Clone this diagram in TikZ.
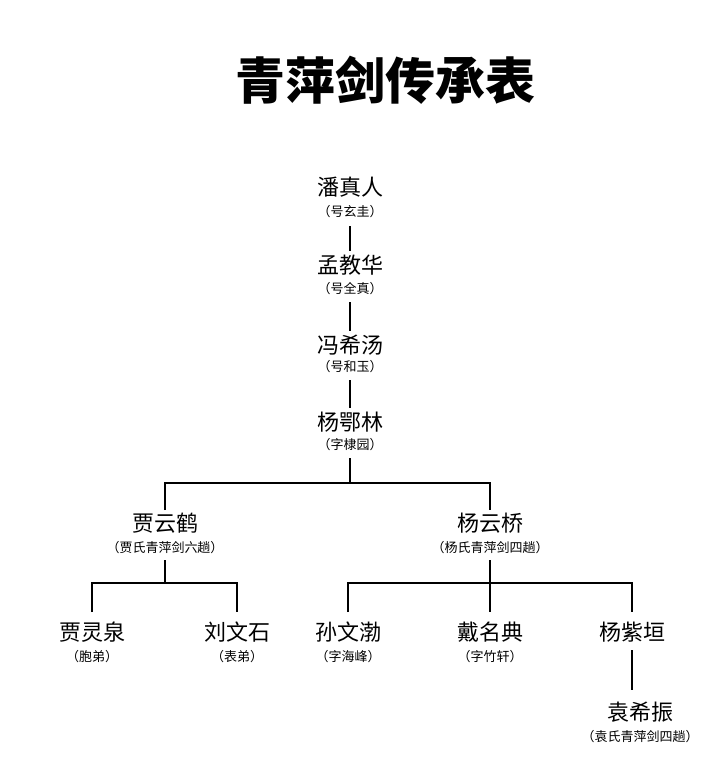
\documentclass[tikz,border=0pt]{standalone}
\usepackage{fontspec}
\newfontfamily\cjk{Noto Sans CJK SC}
\begin{document}
\begin{tikzpicture}[x=1pt,y=-1pt,
  nm/.style={font=\cjk\fontsize{22}{22}\selectfont,inner sep=0pt},
  sb/.style={font=\cjk\fontsize{13}{13}\selectfont,inner sep=0pt},
  ln/.style={line width=1.8pt,black}]
\useasboundingbox (0,0) rectangle (720,777);
\fill[white] (0,0) rectangle (720,777);
\node[font=\cjk\bfseries\fontsize{50}{50}\selectfont,inner sep=0pt] (title) at (385,80) {青萍剑传承表};
\node[nm] (a) at (350,187) {潘真人}; \node[sb] (as) at (350,212) {（号玄圭）};
\node[nm] (b) at (350,265) {孟教华}; \node[sb] (bs) at (350,289) {（号全真）};
\node[nm] (c) at (350,345) {冯希汤}; \node[sb] (cs) at (350,367) {（号和玉）};
\node[nm] (d) at (350,422) {杨鄂林}; \node[sb] (ds) at (350,445) {（字棣园）};
\node[nm] (e) at (165,523) {贾云鹤}; \node[sb] (es) at (165,548) {（贾氏青萍剑六趟）};
\node[nm] (f) at (490,523) {杨云桥}; \node[sb] (fs) at (490,548) {（杨氏青萍剑四趟）};
\node[nm] (g) at (92,632) {贾灵泉}; \node[sb] (gs) at (92,657) {（胞弟）};
\node[nm] (h) at (237,632) {刘文石}; \node[sb] (hs) at (237,657) {（表弟）};
\node[nm] (i) at (348,632) {孙文渤}; \node[sb] (is) at (348,657) {（字海峰）};
\node[nm] (j) at (490,632) {戴名典}; \node[sb] (js) at (490,657) {（字竹轩）};
\node[nm] (k) at (632,632) {杨紫垣};
\node[nm] (l) at (640,712) {袁希振}; \node[sb] (ls) at (640,737) {（袁氏青萍剑四趟）};
\coordinate (a1) at (350,226); \coordinate (b0) at (350,251);
\coordinate (b1) at (350,302); \coordinate (c0) at (350,331);
\coordinate (c1) at (350,380); \coordinate (d0) at (350,408);
\coordinate (d1) at (350,458); \coordinate (j1) at (350,483);
\coordinate (e0) at (165,510); \coordinate (f0) at (490,510);
\coordinate (e1) at (165,560); \coordinate (j2) at (165,583);
\coordinate (g0) at (92,612); \coordinate (h0) at (237,612);
\coordinate (f1) at (490,560); \coordinate (j3) at (490,583);
\coordinate (i0) at (348,612); \coordinate (j0) at (490,612); \coordinate (k0) at (632,612);
\coordinate (k1) at (632,650); \coordinate (l0) at (632,690);
\draw[ln] (a1) -- (b0);
\draw[ln] (b1) -- (c0);
\draw[ln] (c1) -- (d0);
\draw[ln] (d1) -- (j1);
\draw[ln] (e0) |- (j1) -| (f0);
\draw[ln] (e1) -- (j2);
\draw[ln] (g0) |- (j2) -| (h0);
\draw[ln] (f1) -- (j3);
\draw[ln] (i0) |- (j3) -| (k0);
\draw[ln] (j3) -- (j0);
\draw[ln] (k1) -- (l0);
\end{tikzpicture}
\end{document}
